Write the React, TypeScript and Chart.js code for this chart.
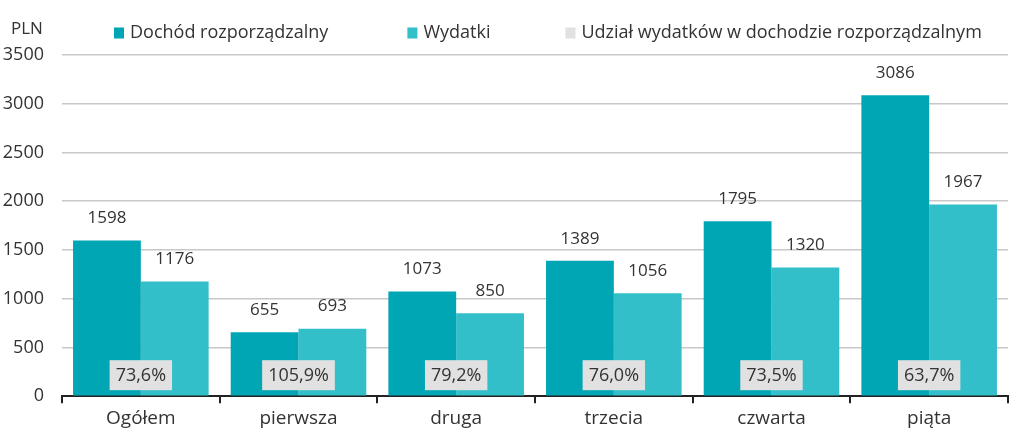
import React, { useEffect, useRef } from "react";
import { Chart, registerables } from "chart.js";

Chart.register(...registerables);

const categories = ["Ogółem", "pierwsza", "druga", "trzecia", "czwarta", "piąta"];
const dochod = [1598, 655, 1073, 1389, 1795, 3086];
const wydatki = [1176, 693, 850, 1056, 1320, 1967];
const udzial = ["73,6%", "105,9%", "79,2%", "76,0%", "73,5%", "63,7%"];
const legendLabels = ["Dochód rozporządzalny", "Wydatki", "Udział wydatków w dochodzie rozporządzalnym"];
const yTicks = [0, 500, 1000, 1500, 2000, 2500, 3000, 3500];

const DARK = "#00A6B4";
const LIGHT = "#33BFCA";
const GREYBOX = "#E1E1E1";
const TEXT = "#333333";
const FONT = "'Open Sans', sans-serif";

const overlayPlugin = {
  id: "overlay",
  afterDatasetsDraw(chart: any) {
    const ctx = chart.ctx;
    const xs = chart.scales.x;
    ctx.save();
    ctx.font = `17px ${FONT}`;
    ctx.fillStyle = TEXT;
    ctx.textAlign = "center";
    ctx.textBaseline = "middle";
    chart.data.datasets.forEach((ds: any, di: number) => {
      const meta = chart.getDatasetMeta(di);
      meta.data.forEach((bar: any, i: number) => {
        ctx.fillText(String(ds.data[i]), bar.x, bar.y - 22);
      });
    });
    ctx.font = `18px ${FONT}`;
    udzial.forEach((t, i) => {
      const cx = xs.getPixelForValue(i);
      const w = ctx.measureText(t).width + 12;
      const h = 30;
      const cy = chart.chartArea.bottom - 21;
      ctx.fillStyle = GREYBOX;
      ctx.fillRect(cx - w / 2, cy - h / 2, w, h);
      ctx.fillStyle = TEXT;
      ctx.fillText(t, cx, cy + 1);
    });
    ctx.restore();
  },
  afterDraw(chart: any) {
    const ctx = chart.ctx;
    ctx.save();
    ctx.font = `17px ${FONT}`;
    ctx.fillStyle = TEXT;
    ctx.textBaseline = "middle";
    ctx.textAlign = "left";
    ctx.fillText("PLN", 11, 29);
    ctx.font = `18px ${FONT}`;
    const colors = [DARK, LIGHT, GREYBOX];
    const gaps = [79, 75];
    const boxW = 10;
    const boxGap = 6;
    let x = 114;
    const y = 33;
    legendLabels.forEach((l, i) => {
      ctx.fillStyle = colors[i];
      ctx.fillRect(x, y - 5.5, boxW, 11);
      ctx.fillStyle = TEXT;
      ctx.fillText(l, x + boxW + boxGap, y);
      x += boxW + boxGap + ctx.measureText(l).width + (gaps[i] || 0);
    });
    ctx.restore();
  },
};

export default function App() {
  const ref = useRef<HTMLCanvasElement | null>(null);
  useEffect(() => {
    document.body.style.margin = "0";
    const chart = new Chart(ref.current!, {
      type: "bar",
      data: {
        labels: categories,
        datasets: [
          { label: legendLabels[0], data: dochod, backgroundColor: DARK },
          { label: legendLabels[1], data: wydatki, backgroundColor: LIGHT },
        ],
      },
      options: {
        animation: false,
        responsive: false,
        maintainAspectRatio: false,
        layout: { padding: { top: 55, right: 16, bottom: 2, left: 3 } },
        plugins: { legend: { display: false }, tooltip: { enabled: false } },
        datasets: { bar: { categoryPercentage: 0.86, barPercentage: 1 } },
        scales: {
          x: {
            grid: { drawOnChartArea: false, drawTicks: true, tickLength: 7, color: "#222", lineWidth: 2, offset: true },
            border: { color: "#222", width: 2 },
            ticks: { color: TEXT, font: { family: FONT, size: 19 }, padding: 4 },
          },
          y: {
            min: 0,
            max: 3500,
            afterBuildTicks: (axis: any) => {
              axis.ticks = yTicks.map((v) => ({ value: v }));
            },
            afterFit: (axis: any) => {
              axis.width = 59;
            },
            grid: { color: "#C8C8C8", lineWidth: 1.5, drawTicks: false },
            border: { display: false },
            ticks: { color: TEXT, font: { family: FONT, size: 18 }, padding: 18, callback: (v: any) => String(v) },
          },
        },
      },
      plugins: [overlayPlugin],
    } as any);
    return () => chart.destroy();
  }, []);
  return (
    <div style={{ width: 1024, height: 436 }}>
      <canvas ref={ref} width={1024} height={436} style={{ display: "block" }} />
    </div>
  );
}
